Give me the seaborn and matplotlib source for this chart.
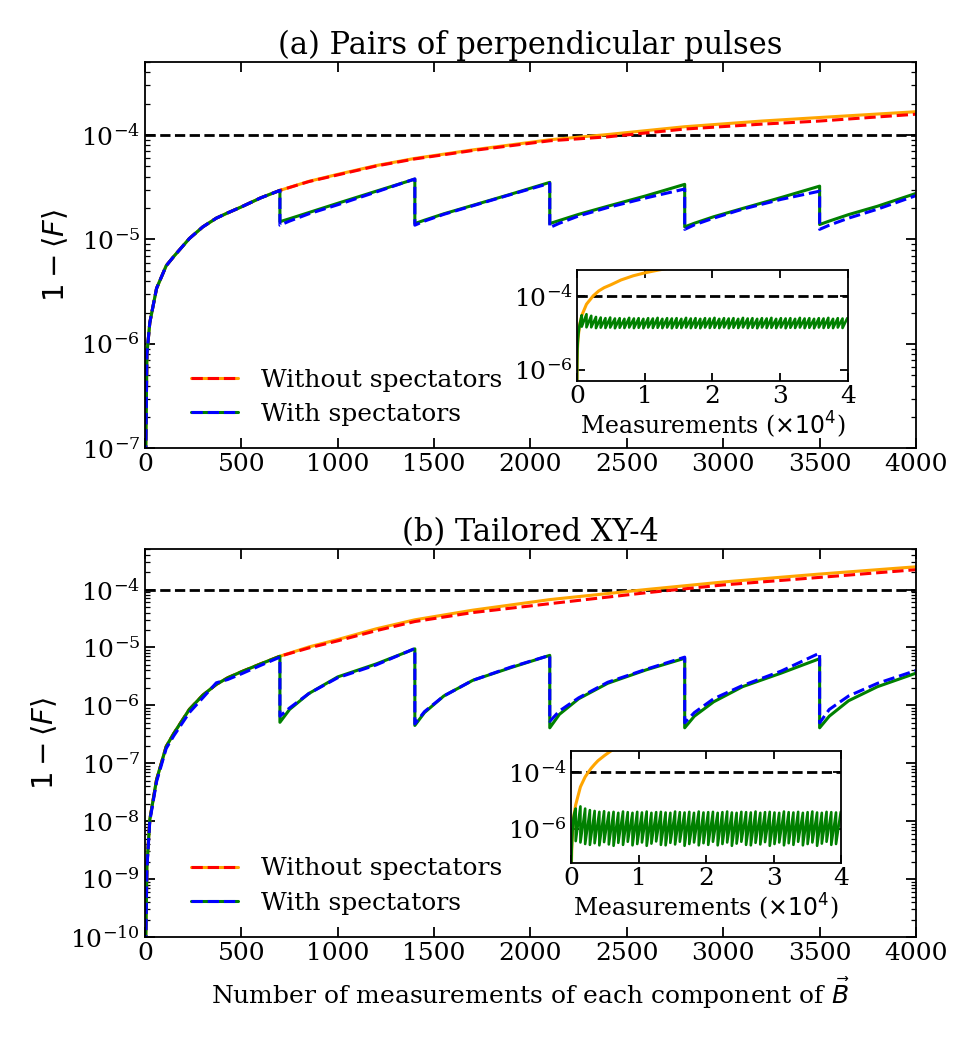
import numpy as np
import seaborn as sns
import matplotlib
matplotlib.use("Agg")
import matplotlib.pyplot as plt
from matplotlib.lines import Line2D
from matplotlib.ticker import LogLocator, FixedLocator, NullLocator, MultipleLocator

# ---- data ----
# measurement counts for the sawtooth curves (reset every 700 measurements)
n_saw = [0, 10, 25, 60, 110, 150, 230, 300, 370, 430, 500, 600, 700,
         700, 750, 850, 1000, 1200, 1400,
         1400, 1450, 1550, 1700, 1900, 2100,
         2100, 2150, 2250, 2400, 2600, 2800,
         2800, 2850, 2950, 3100, 3300, 3500,
         3500, 3550, 3650, 3800, 4000]

# (a) pairs of perpendicular pulses
green_a = [2e-8, 8e-7, 1.6e-6, 3.4e-6, 5.6e-6, 6.9e-6, 1.02e-5, 1.32e-5, 1.6e-5, 1.8e-5, 2.05e-5, 2.5e-5, 2.95e-5,
           1.48e-5, 1.58e-5, 1.81e-5, 2.22e-5, 2.9e-5, 3.78e-5,
           1.42e-5, 1.53e-5, 1.76e-5, 2.12e-5, 2.72e-5, 3.52e-5,
           1.42e-5, 1.52e-5, 1.74e-5, 2.08e-5, 2.62e-5, 3.37e-5,
           1.32e-5, 1.43e-5, 1.65e-5, 1.98e-5, 2.52e-5, 3.24e-5,
           1.39e-5, 1.5e-5, 1.73e-5, 2.08e-5, 2.76e-5]
blue_a = [2e-8, 8e-7, 1.6e-6, 3.4e-6, 5.6e-6, 6.9e-6, 1.02e-5, 1.32e-5, 1.6e-5, 1.8e-5, 2.05e-5, 2.5e-5, 2.95e-5,
          1.37e-5, 1.5e-5, 1.76e-5, 2.15e-5, 2.85e-5, 3.8e-5,
          1.37e-5, 1.5e-5, 1.74e-5, 2.1e-5, 2.7e-5, 3.45e-5,
          1.3e-5, 1.43e-5, 1.68e-5, 2.02e-5, 2.5e-5, 3.04e-5,
          1.25e-5, 1.38e-5, 1.6e-5, 1.95e-5, 2.42e-5, 2.9e-5,
          1.25e-5, 1.37e-5, 1.6e-5, 1.95e-5, 2.63e-5]

n_smooth_a = [0, 10, 25, 60, 110, 150, 230, 300, 370, 430, 500, 600, 700, 850, 1000, 1200, 1400, 1700,
              2100, 2400, 2800, 3200, 3500, 4000]
orange_a = [2e-8, 8e-7, 1.6e-6, 3.4e-6, 5.6e-6, 6.9e-6, 1.02e-5, 1.32e-5, 1.6e-5, 1.8e-5, 2.05e-5, 2.5e-5,
            2.95e-5, 3.6e-5, 4.2e-5, 5.1e-5, 5.97e-5, 7.2e-5, 9.0e-5, 1.01e-4, 1.2e-4, 1.36e-4, 1.47e-4, 1.67e-4]
red_a = [2e-8, 8e-7, 1.6e-6, 3.4e-6, 5.6e-6, 6.9e-6, 1.02e-5, 1.32e-5, 1.6e-5, 1.8e-5, 2.05e-5, 2.5e-5,
         2.95e-5, 3.58e-5, 4.15e-5, 5.05e-5, 5.9e-5, 7.1e-5, 8.8e-5, 9.6e-5, 1.14e-4, 1.27e-4, 1.36e-4, 1.58e-4]

# (b) tailored XY-4
green_b = [1e-11, 1.66e-9, 1.07e-8, 5.2e-8, 1.95e-7, 3.3e-7, 8.5e-7, 1.5e-6, 2.3e-6, 3.0e-6, 3.8e-6, 5.2e-6, 7.05e-6,
           5.1e-7, 8.5e-7, 1.6e-6, 3.1e-6, 5.2e-6, 9.46e-6,
           4.5e-7, 7.5e-7, 1.45e-6, 2.7e-6, 4.5e-6, 7.3e-6,
           4.1e-7, 7e-7, 1.3e-6, 2.4e-6, 4.1e-6, 6.5e-6,
           4.1e-7, 6.5e-7, 1.15e-6, 2.1e-6, 3.6e-6, 6.4e-6,
           4.1e-7, 6.5e-7, 1.2e-6, 2.1e-6, 3.6e-6]
blue_b = [1e-11, 1.5e-9, 1.0e-8, 4.8e-8, 1.8e-7, 3.0e-7, 7.5e-7, 1.35e-6, 2.45e-6, 2.8e-6, 3.5e-6, 4.9e-6, 6.8e-6,
          6.5e-7, 9e-7, 1.6e-6, 3.0e-6, 5.0e-6, 9.6e-6,
          4.8e-7, 7.8e-7, 1.45e-6, 2.7e-6, 4.6e-6, 7.3e-6,
          5.3e-7, 8e-7, 1.35e-6, 2.5e-6, 4.2e-6, 6.8e-6,
          5e-7, 7.5e-7, 1.3e-6, 2.2e-6, 3.9e-6, 8e-6,
          5e-7, 8.5e-7, 1.45e-6, 2.4e-6, 4.0e-6]

n_smooth_b = [0, 10, 25, 60, 110, 150, 230, 300, 370, 430, 500, 600, 700, 850, 1000, 1200, 1400, 1700,
              2100, 2600, 3000, 3500, 4000]
orange_b = [1e-11, 1.66e-9, 1.07e-8, 5.2e-8, 1.95e-7, 3.3e-7, 8.5e-7, 1.5e-6, 2.3e-6, 3.0e-6, 3.8e-6, 5.2e-6,
            7.05e-6, 1.02e-5, 1.37e-5, 2.1e-5, 3.0e-5, 4.4e-5, 6.7e-5, 1.0e-4, 1.35e-4, 1.85e-4, 2.47e-4]
red_b = [1e-11, 1.66e-9, 1.07e-8, 5.2e-8, 1.95e-7, 3.3e-7, 8.5e-7, 1.5e-6, 2.3e-6, 3.0e-6, 3.8e-6, 5.2e-6,
         7.05e-6, 9.8e-6, 1.3e-5, 1.95e-5, 2.8e-5, 4.0e-5, 5.7e-5, 8.8e-5, 1.2e-4, 1.62e-4, 2.2e-4]

# insets: long runs, x in units of 1e4 measurements
inset_n_orange_a = [0, 0.001, 0.0025, 0.006, 0.015, 0.037, 0.07, 0.14, 0.24, 0.32,
                    0.4, 0.5, 0.65, 0.83, 1.0, 1.2, 1.4]
inset_orange_a = [2e-8, 8e-7, 1.6e-6, 3.4e-6, 6.9e-6, 1.6e-5, 2.95e-5, 5.97e-5, 1.01e-4,
                  1.36e-4, 1.67e-4, 2.0e-4, 2.7e-4, 3.5e-4, 4.2e-4, 5.0e-4, 5.8e-4]
inset_n_orange_b = [0, 0.001, 0.0025, 0.006, 0.015, 0.037, 0.07, 0.14, 0.21, 0.26,
                    0.3, 0.35, 0.4, 0.5, 0.6, 0.7]
inset_orange_b = [1e-11, 1.66e-9, 1.07e-8, 5.2e-8, 3.3e-7, 2.4e-6, 7.05e-6, 3.0e-5, 6.7e-5,
                  1.0e-4, 1.35e-4, 1.85e-4, 2.47e-4, 3.8e-4, 5.6e-4, 7.5e-4]

# first tooth of the inset curves (same run start as the main panels)
inset_n_start = [0, 0.001, 0.0025, 0.006, 0.011, 0.015, 0.023, 0.037, 0.05, 0.07]
inset_start_a = [2e-8, 8e-7, 1.6e-6, 3.4e-6, 5.4e-6, 6.9e-6, 1.0e-5, 1.6e-5, 2.05e-5, 3.0e-5]
inset_start_b = [1e-11, 1.66e-9, 1.07e-8, 5.2e-8, 1.95e-7, 3.3e-7, 8.5e-7, 2.4e-6, 3.6e-6, 5.2e-6]

# value just after each reset and just before the next one (teeth 2..57)
inset_troughs_a = [1.48e-5, 1.42e-5, 1.42e-5, 1.35e-5, 1.39e-5, 1.36e-5, 1.4e-5, 1.34e-5, 1.38e-5, 1.36e-5,
                   1.4e-5, 1.35e-5, 1.38e-5, 1.34e-5, 1.4e-5, 1.36e-5, 1.38e-5, 1.35e-5, 1.4e-5, 1.34e-5,
                   1.38e-5, 1.36e-5, 1.4e-5, 1.35e-5, 1.38e-5, 1.34e-5, 1.4e-5, 1.36e-5, 1.38e-5, 1.35e-5,
                   1.4e-5, 1.34e-5, 1.38e-5, 1.36e-5, 1.4e-5, 1.35e-5, 1.38e-5, 1.34e-5, 1.4e-5, 1.36e-5,
                   1.38e-5, 1.35e-5, 1.4e-5, 1.34e-5, 1.38e-5, 1.36e-5, 1.4e-5, 1.35e-5, 1.38e-5, 1.34e-5,
                   1.4e-5, 1.36e-5, 1.38e-5, 1.35e-5, 1.4e-5, 1.36e-5]
inset_peaks_a = [3.2e-5, 2.9e-5, 2.7e-5, 2.6e-5, 2.5e-5, 2.6e-5, 2.45e-5, 2.5e-5, 2.4e-5, 2.55e-5,
                 2.45e-5, 2.5e-5, 2.4e-5, 2.5e-5, 2.45e-5, 2.55e-5, 2.4e-5, 2.5e-5, 2.45e-5, 2.5e-5,
                 2.4e-5, 2.55e-5, 2.45e-5, 2.5e-5, 2.4e-5, 2.5e-5, 2.45e-5, 2.55e-5, 2.4e-5, 2.5e-5,
                 2.45e-5, 2.5e-5, 2.4e-5, 2.55e-5, 2.45e-5, 2.5e-5, 2.4e-5, 2.5e-5, 2.45e-5, 2.55e-5,
                 2.4e-5, 2.5e-5, 2.45e-5, 2.5e-5, 2.4e-5, 2.55e-5, 2.45e-5, 2.5e-5, 2.4e-5, 2.5e-5,
                 2.45e-5, 2.55e-5, 2.4e-5, 2.5e-5, 2.45e-5, 2.5e-5]
inset_troughs_b = [3.8e-7, 3.4e-7, 3.0e-7, 2.8e-7, 3.2e-7, 2.7e-7, 3.5e-7, 2.9e-7, 2.6e-7, 3.3e-7,
                   2.8e-7, 3.6e-7, 2.7e-7, 3.0e-7, 3.4e-7, 2.6e-7, 3.1e-7, 3.7e-7, 2.8e-7, 2.7e-7,
                   3.3e-7, 2.9e-7, 3.6e-7, 2.6e-7, 3.0e-7, 3.4e-7, 2.7e-7, 3.2e-7, 2.8e-7, 3.6e-7,
                   2.7e-7, 3.0e-7, 3.4e-7, 2.6e-7, 3.1e-7, 3.6e-7, 2.8e-7, 2.7e-7, 3.3e-7, 2.9e-7,
                   3.5e-7, 2.6e-7, 3.0e-7, 3.4e-7, 2.7e-7, 3.2e-7, 2.8e-7, 3.6e-7, 2.7e-7, 3.0e-7,
                   3.4e-7, 2.6e-7, 3.1e-7, 3.6e-7, 2.8e-7, 3.0e-7]
inset_peaks_b = [6.2e-6, 5.2e-6, 4.6e-6, 4.3e-6, 4.0e-6, 4.2e-6, 3.8e-6, 4.0e-6, 3.7e-6, 4.1e-6,
                 3.9e-6, 3.7e-6, 4.0e-6, 3.8e-6, 4.1e-6, 3.7e-6, 3.9e-6, 4.0e-6, 3.8e-6, 3.7e-6,
                 4.1e-6, 3.9e-6, 3.8e-6, 4.0e-6, 3.7e-6, 4.1e-6, 3.8e-6, 3.9e-6, 4.0e-6, 3.7e-6,
                 3.9e-6, 4.1e-6, 3.8e-6, 3.7e-6, 4.0e-6, 3.9e-6, 3.8e-6, 4.1e-6, 3.7e-6, 3.9e-6,
                 4.0e-6, 3.8e-6, 3.7e-6, 4.1e-6, 3.9e-6, 3.8e-6, 4.0e-6, 3.7e-6, 3.9e-6, 4.1e-6,
                 3.8e-6, 3.7e-6, 4.0e-6, 3.9e-6, 3.8e-6, 4.0e-6]
reset_every = 0.07   # 700 measurements in units of 1e4

threshold = 1e-4
labels = ["Without spectators", "With spectators"]


def inset_series(start, troughs, peaks):
    # chain the first tooth with the following sawtooth resets
    xs = list(inset_n_start)
    ys = list(start)
    for k, (lo, hi) in enumerate(zip(troughs, peaks), start=1):
        xs += [k * reset_every, (k + 1) * reset_every]
        ys += [lo, hi]
    return xs, ys


def line(ax, x, y, color, ls="-", lw=2.2):
    sns.lineplot(x=x, y=y, ax=ax, color=color, linestyle=ls, linewidth=lw,
                 estimator=None, sort=False, legend=False)


sns.set_style("ticks")
plt.rcParams["font.family"] = ["DejaVu Serif"]
plt.rcParams["mathtext.fontset"] = "dejavusans"
plt.rcParams["axes.linewidth"] = 1.3
for key in ["text.color", "axes.labelcolor", "xtick.color", "ytick.color", "axes.edgecolor"]:
    plt.rcParams[key] = "black"

fig = plt.figure(figsize=(9.75, 10.5), dpi=100)
ax_a = fig.add_axes([0.1487, 0.5729, 0.7908, 0.3681])
ax_b = fig.add_axes([0.1487, 0.1076, 0.7908, 0.3695])
in_a = fig.add_axes([0.5918, 0.6371, 0.2779, 0.1057])
in_b = fig.add_axes([0.5856, 0.1781, 0.2774, 0.1067])

panels = [
    (ax_a, "(a) Pairs of perpendicular pulses", n_smooth_a, orange_a, red_a, green_a, blue_a, 1e-7),
    (ax_b, "(b) Tailored XY-4", n_smooth_b, orange_b, red_b, green_b, blue_b, 1e-10),
]
for ax, title, ns, orange, red, green, blue, ymin in panels:
    ax.axhline(threshold, color="black", linestyle="--", linewidth=2.0)
    line(ax, ns, orange, "orange")
    line(ax, ns, red, "red", "--")
    line(ax, n_saw, green, "green")
    line(ax, n_saw, blue, "blue", "--")
    ax.set_yscale("log")
    ax.set_xlim(0, 4000)
    ax.set_ylim(ymin, 5e-4)
    ax.xaxis.set_major_locator(MultipleLocator(500))
    ax.yaxis.set_major_locator(LogLocator(base=10, numticks=20))
    ax.yaxis.set_minor_locator(LogLocator(base=10, subs=np.arange(2, 10), numticks=20))
    ax.tick_params(which="both", direction="in", top=True, right=True, labelsize=18)
    ax.tick_params(which="major", length=7, width=1.3)
    ax.tick_params(which="minor", length=3.5, width=0.9)
    ax.set_title(title, fontsize=22, pad=6)
    ax.set_ylabel(r"$1-\langle F\rangle$", fontsize=21, labelpad=8)

    h_without = (Line2D([], [], color="orange", lw=2.2), Line2D([], [], color="red", lw=2.2, ls="--"))
    h_with = (Line2D([], [], color="green", lw=2.2), Line2D([], [], color="blue", lw=2.2, ls="--"))
    ax.legend([h_without, h_with], labels, loc="lower left", bbox_to_anchor=(0.03, 0.0),
              frameon=False, fontsize=18, handlelength=1.9, handletextpad=0.9, labelspacing=0.45)

ax_b.set_xlabel(r"Number of measurements of each component of $\vec{B}$", fontsize=18, labelpad=8)

insets = [
    (in_a, inset_n_orange_a, inset_orange_a, inset_start_a, inset_troughs_a, inset_peaks_a, (5e-7, 5e-4)),
    (in_b, inset_n_orange_b, inset_orange_b, inset_start_b, inset_troughs_b, inset_peaks_b, (6.5e-8, 5.4e-4)),
]
for ax, xo, yo, start, lows, highs, ylim in insets:
    ax.axhline(threshold, color="black", linestyle="--", linewidth=2.0)
    line(ax, xo, yo, "orange")
    xs, ys = inset_series(start, lows, highs)
    line(ax, xs, ys, "green", lw=1.9)
    ax.set_yscale("log")
    ax.set_xlim(0, 4)
    ax.set_ylim(*ylim)
    ax.yaxis.set_major_locator(FixedLocator([1e-6, 1e-4]))
    ax.yaxis.set_minor_locator(NullLocator())
    ax.xaxis.set_major_locator(MultipleLocator(1))
    ax.tick_params(which="both", direction="in", top=True, right=True, labelsize=18,
                   length=6, width=1.3, pad=3)
    ax.set_xlabel(r"Measurements ($\times10^4$)", fontsize=17, labelpad=1)
    ax.set_ylabel("")

fig.savefig("out.png", dpi=100)
